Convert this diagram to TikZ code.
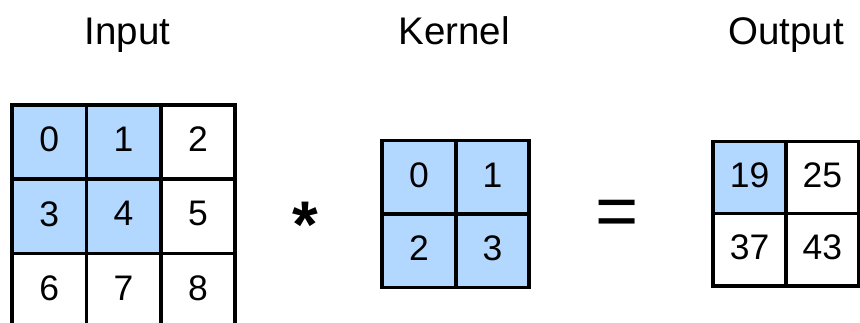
\documentclass[tikz,border=0pt]{standalone}
\usepackage{fontspec}
\setmainfont{Liberation Sans}
\definecolor{cellblue}{RGB}{179,216,255}
\begin{document}
\begin{tikzpicture}[x=1pt,y=1pt,
  incell/.style={draw=black, line width=3.6pt, minimum width=74.3pt, minimum height=74.3pt, inner sep=0pt, text depth=5pt, font=\fontsize{35.5}{40}\selectfont},
  kcell/.style={incell, minimum width=73.5pt, minimum height=73.5pt},
  ocell/.style={incell, minimum width=72.8pt, minimum height=72.3pt},
  hl/.style={fill=cellblue},
  title/.style={anchor=base, inner sep=0pt, font=\fontsize{38.5}{44}\selectfont},
  opsym/.style={anchor=north, inner sep=0pt}
]
\useasboundingbox (0,0) rectangle (860,323);
\clip (0,0) rectangle (860,323);
% titles
\node[title] (tin) at (127.5,278) {Input};
\node[title] (tker) at (454,278) {Kernel};
\node[title] (tout) at (786,278) {Output};
% input grid
\node[incell,hl] (i0) at (49.3,181.1) {0};
\node[incell,hl] (i1) at (123.6,181.1) {1};
\node[incell] (i2) at (197.9,181.1) {2};
\node[incell,hl] (i3) at (49.3,106.8) {3};
\node[incell,hl] (i4) at (123.6,106.8) {4};
\node[incell] (i5) at (197.9,106.8) {5};
\node[incell] (i6) at (49.3,32.5) {6};
\node[incell] (i7) at (123.6,32.5) {7};
\node[incell] (i8) at (197.9,32.5) {8};
% operator
\node[opsym, font=\bfseries\fontsize{66}{70}\selectfont] (star) at (305,121) {*};
% kernel grid
\node[kcell,hl] (k0) at (419,145.7) {0};
\node[kcell,hl] (k1) at (492.5,145.7) {1};
\node[kcell,hl] (k2) at (419,72.2) {2};
\node[kcell,hl] (k3) at (492.5,72.2) {3};
% equals
\node[opsym, font=\fontsize{74}{80}\selectfont] (eq) at (617.5,123) {=};
% output grid
\node[ocell,hl] (o0) at (749.5,145.5) {19};
\node[ocell] (o1) at (822.3,145.5) {25};
\node[ocell] (o2) at (749.5,73.2) {37};
\node[ocell] (o3) at (822.3,73.2) {43};
\end{tikzpicture}
\end{document}
